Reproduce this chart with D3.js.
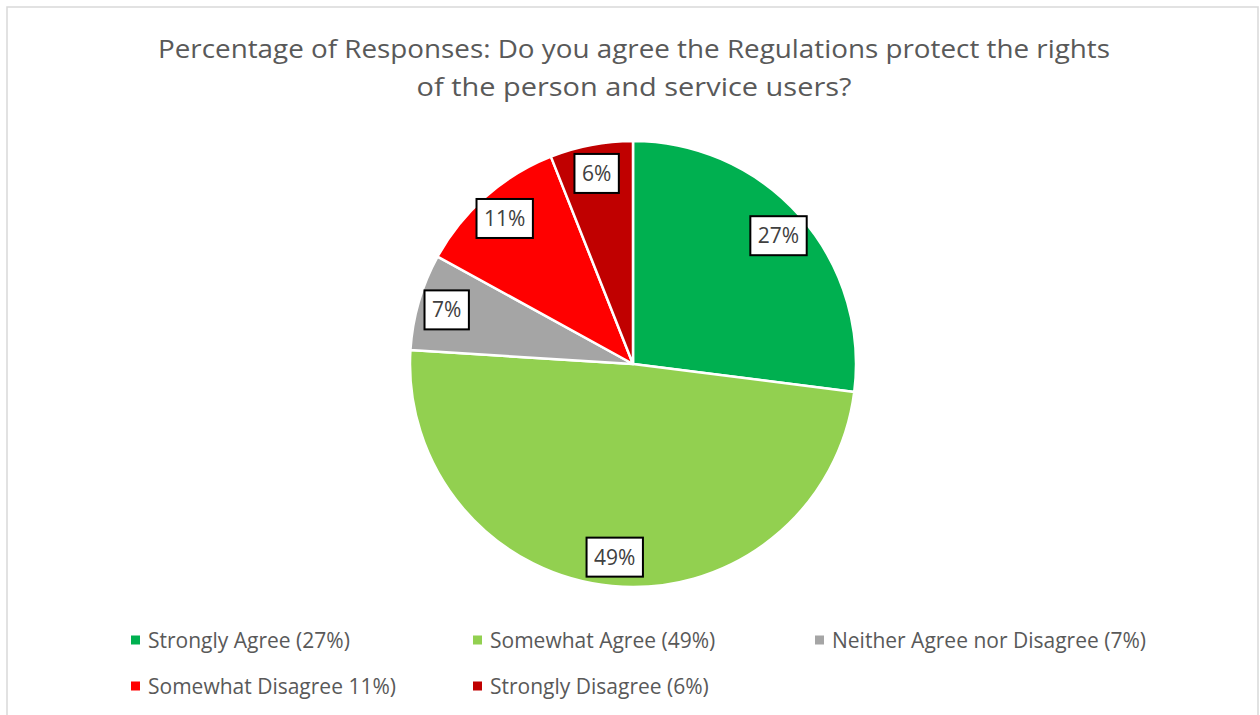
<!DOCTYPE html>
<html>
<head>
<meta charset="utf-8">
<script src="https://cdn.jsdelivr.net/npm/d3@7"></script>
<style>
  html, body { margin: 0; padding: 0; background: #fff; }
  svg { display: block; }
  text { font-family: "Open Sans", Lato, sans-serif; }
</style>
</head>
<body>
<svg id="chart" width="1260" height="715"></svg>
<script>
// Survey responses, in order around the pie (clockwise from 12 o'clock)
const categories = ["Strongly Agree", "Somewhat Agree", "Neither Agree nor Disagree", "Somewhat Disagree", "Strongly Disagree"];
const values = [27, 49, 7, 11, 6];
const legendLabels = ["Strongly Agree (27%)", "Somewhat Agree (49%)", "Neither Agree nor Disagree (7%)", "Somewhat Disagree 11%)", "Strongly Disagree (6%)"];
const titleLines = ["Percentage of Responses: Do you agree the Regulations protect the rights", "of the person and service users?"];
const palette = ["#00B050", "#92D050", "#A5A5A5", "#FF0000", "#C00000"];

const svg = d3.select("#chart");

// chart frame
svg.append("rect")
  .attr("x", 7).attr("y", 7)
  .attr("width", 1251).attr("height", 720)
  .attr("fill", "#fff")
  .attr("stroke", "#D9D9D9").attr("stroke-width", 1.5);

// title, two centred lines
const titleWidths = [952, 435];
const title = svg.append("g");
titleLines.forEach((t, i) => {
  title.append("text")
    .attr("x", 634).attr("y", 58 + i * 38)
    .attr("text-anchor", "middle")
    .attr("font-size", 25)
    .attr("fill", "#595959")
    .attr("textLength", titleWidths[i])
    .attr("lengthAdjust", "spacingAndGlyphs")
    .text(t);
});

// pie
const cx = 633, cy = 364, R = 223;
const color = d3.scaleOrdinal().domain(categories).range(palette);
const pie = d3.pie().sort(null).value(d => d.value);
const data = categories.map((c, i) => ({ category: c, value: values[i] }));
const arcs = pie(data);
const arc = d3.arc().innerRadius(0).outerRadius(R);
const labelArc = d3.arc().innerRadius(194).outerRadius(194);

const g = svg.append("g").attr("transform", `translate(${cx},${cy})`);
g.selectAll("path.slice")
  .data(arcs)
  .join("path")
  .attr("class", "slice")
  .attr("d", arc)
  .attr("fill", d => color(d.data.category))
  .attr("stroke", "#fff")
  .attr("stroke-width", 2.5)
  .attr("stroke-linejoin", "round");

// data labels in boxed callouts
const labels = g.selectAll("g.lbl")
  .data(arcs)
  .join("g")
  .attr("class", "lbl")
  .attr("transform", d => `translate(${labelArc.centroid(d)})`);

labels.each(function(d) {
  const sel = d3.select(this);
  const txt = sel.append("text")
    .attr("text-anchor", "middle")
    .attr("dy", "0.36em")
    .attr("font-size", 21)
    .attr("fill", "#404040")
    .text(`${d.data.value}%`);
  const w = txt.node().getComputedTextLength();
  const bw = w + 15, bh = 39;
  sel.insert("rect", "text")
    .attr("x", -bw / 2).attr("y", -bh / 2)
    .attr("width", bw).attr("height", bh)
    .attr("fill", "#fff")
    .attr("stroke", "#000").attr("stroke-width", 2);
});

// legend: three columns, wrapping onto a second row
const colX = [131, 473, 815];
const rowY = [640, 686];
const legend = svg.append("g");
legendLabels.forEach((lab, i) => {
  const col = i % 3, row = Math.floor(i / 3);
  const item = legend.append("g").attr("transform", `translate(${colX[col]},${rowY[row]})`);
  item.append("rect")
    .attr("x", 0).attr("y", -4.5)
    .attr("width", 9).attr("height", 9)
    .attr("fill", palette[i]);
  item.append("text")
    .attr("x", 17).attr("y", 0)
    .attr("dy", "0.36em")
    .attr("font-size", 21)
    .attr("fill", "#595959")
    .text(lab);
});
</script>
</body>
</html>
